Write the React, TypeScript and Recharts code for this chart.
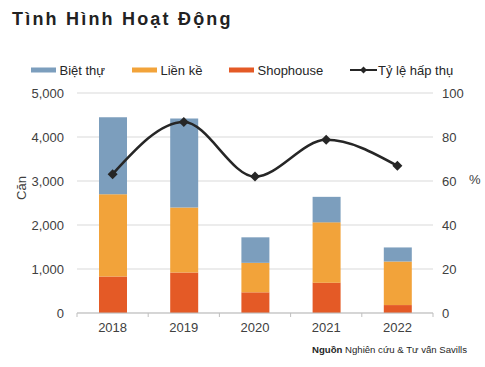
import React from 'react';
import {
  ComposedChart,
  Bar,
  Line,
  XAxis,
  YAxis,
  CartesianGrid,
} from 'recharts';

const CATEGORIES = ['2018', '2019', '2020', '2021', '2022'];
const BIET_THU = [1750, 2020, 580, 580, 320];
const LIEN_KE = [1870, 1480, 670, 1370, 990];
const SHOPHOUSE = [830, 920, 470, 690, 180];
const TY_LE = [63.1, 86.8, 62.0, 78.7, 66.9];
const LEFT_TICKS = [0, 1000, 2000, 3000, 4000, 5000];
const RIGHT_TICKS = [0, 20, 40, 60, 80, 100];

const SERIES = [
  { key: 'bietThu', name: 'Biệt thự', color: '#7C9EBD' },
  { key: 'lienKe', name: 'Liền kề', color: '#F2A33A' },
  { key: 'shophouse', name: 'Shophouse', color: '#E45A26' },
];
const LINE_NAME = 'Tỷ lệ hấp thụ';
const LINE_COLOR = '#262626';

const data = CATEGORIES.map((year, i) => ({
  year,
  bietThu: BIET_THU[i],
  lienKe: LIEN_KE[i],
  shophouse: SHOPHOUSE[i],
  tyLe: TY_LE[i],
}));

const W = 485;
const H = 367;
const FONT = '"Liberation Sans", Arial, sans-serif';
const MARGIN = { top: 93, right: 12, bottom: 24, left: 0 };
const LEFT_W = 77;
const RIGHT_W = 40;
const PLOT_W = W - MARGIN.left - MARGIN.right - LEFT_W - RIGHT_W;
const HALF_BAND = PLOT_W / CATEGORIES.length / 2;

const Diamond = (props: any) => {
  const { cx, cy } = props;
  if (cx == null || cy == null) return null;
  const r = 5;
  return (
    <polygon
      points={`${cx},${cy - r} ${cx + r},${cy} ${cx},${cy + r} ${cx - r},${cy}`}
      fill={LINE_COLOR}
    />
  );
};

const YearTick = (props: any) => {
  const { x, y, payload, index } = props;
  const last = index === CATEGORIES.length - 1;
  return (
    <g>
      <line x1={x - HALF_BAND} x2={x - HALF_BAND} y1={y} y2={y + 4} stroke="#bfbfbf" />
      {last && <line x1={x + HALF_BAND} x2={x + HALF_BAND} y1={y} y2={y + 4} stroke="#bfbfbf" />}
      <text x={x} y={y + 19} textAnchor="middle" fontSize={13} fill="#404040" fontFamily={FONT}>
        {payload.value}
      </text>
    </g>
  );
};

const legendX = [31, 132, 229, 350];

function Overlay() {
  return (
    <svg
      width={W}
      height={H}
      style={{ position: 'absolute', left: 0, top: 0, pointerEvents: 'none' }}
      fontFamily={FONT}
    >
      <text x={12} y={25} fontSize={18} fontWeight="bold" letterSpacing={2.2} fill="#222">
        Tình Hình Hoạt Động
      </text>
      {SERIES.map((s, i) => (
        <g key={s.key}>
          <rect x={legendX[i]} y={67.5} width={25} height={5} fill={s.color} />
          <text x={legendX[i] + 28.5} y={74.5} fontSize={13} fill="#262626">
            {s.name}
          </text>
        </g>
      ))}
      <line x1={legendX[3]} x2={legendX[3] + 27} y1={70} y2={70} stroke={LINE_COLOR} strokeWidth={2} />
      <polygon
        points={`${legendX[3] + 13.5},66.5 ${legendX[3] + 17},70 ${legendX[3] + 13.5},73.5 ${legendX[3] + 10},70`}
        fill={LINE_COLOR}
      />
      <text x={legendX[3] + 28} y={74.5} fontSize={13} fill="#262626">
        {LINE_NAME}
      </text>
      <text
        x={0}
        y={0}
        fontSize={13}
        fill="#404040"
        textAnchor="middle"
        transform="translate(26 188) rotate(-90)"
      >
        Căn
      </text>
      <text x={469} y={184} fontSize={13} fill="#404040">
        %
      </text>
      <text x={312} y={353} fontSize={9.6} fill="#262626">
        <tspan fontWeight="bold">Nguồn</tspan> Nghiên cứu &amp; Tư vấn Savills
      </text>
    </svg>
  );
}

export default function App() {
  return (
    <div
      style={{
        position: 'fixed',
        left: 0,
        top: 0,
        width: W,
        height: H,
        background: '#fff',
        fontFamily: FONT,
      }}
    >
      <ComposedChart width={W} height={H} data={data} margin={MARGIN}>
        <CartesianGrid vertical={false} stroke="#d9d9d9" yAxisId="left" />
        <XAxis
          dataKey="year"
          axisLine={{ stroke: '#bfbfbf' }}
          tickLine={false}
          tickSize={0}
          tickMargin={0}
          height={30}
          tick={<YearTick />}
          interval={0}
        />
        <YAxis
          yAxisId="left"
          domain={[0, 5000]}
          ticks={LEFT_TICKS}
          width={LEFT_W}
          axisLine={false}
          tickLine={false}
          tickSize={0}
          tickMargin={13}
          tickFormatter={(v) => v.toLocaleString('en-US')}
          tick={{ fontSize: 13, fill: '#404040', fontFamily: FONT }}
        />
        <YAxis
          yAxisId="right"
          orientation="right"
          domain={[0, 100]}
          ticks={RIGHT_TICKS}
          width={RIGHT_W}
          axisLine={false}
          tickLine={false}
          tickSize={0}
          tickMargin={9}
          tick={{ fontSize: 13, fill: '#404040', fontFamily: FONT, textAnchor: 'start' }}
        />
        <Bar yAxisId="left" dataKey="shophouse" stackId="a" fill={SERIES[2].color} barSize={28} isAnimationActive={false} />
        <Bar yAxisId="left" dataKey="lienKe" stackId="a" fill={SERIES[1].color} barSize={28} isAnimationActive={false} />
        <Bar yAxisId="left" dataKey="bietThu" stackId="a" fill={SERIES[0].color} barSize={28} isAnimationActive={false} />
        <Line
          yAxisId="right"
          type="monotone"
          dataKey="tyLe"
          stroke={LINE_COLOR}
          strokeWidth={2.5}
          dot={<Diamond />}
          activeDot={false}
          isAnimationActive={false}
        />
      </ComposedChart>
      <Overlay />
    </div>
  );
}
